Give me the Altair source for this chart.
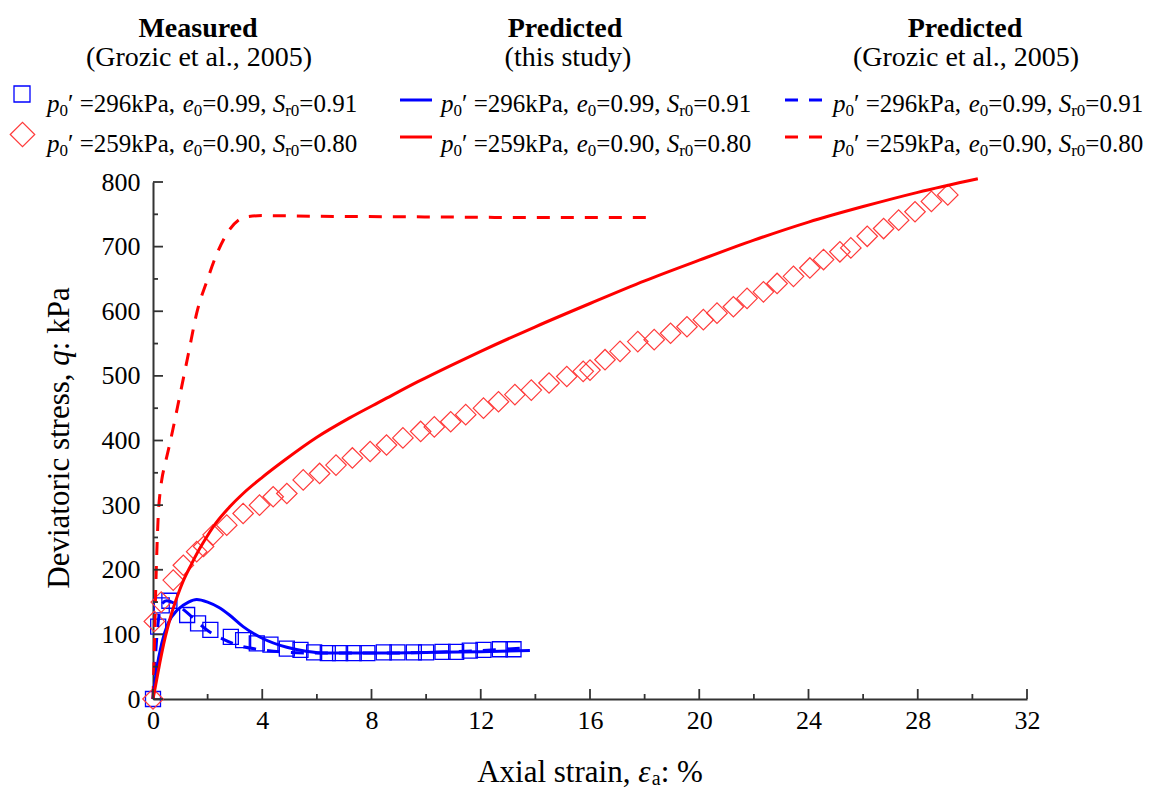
import altair as alt
import pandas as pd

FONT = "Liberation Serif"
BLUE = "#0000FF"
RED = "#FF0000"
DIAMOND_RED = "#FF3B3B"
AXIS_COLOR = "#333333"

# ---------------- data ----------------
# Measured (Grozic et al., 2005), p0' = 296 kPa
meas_296_strain = [0, 0.19, 0.32, 0.6, 1.25, 1.65, 2.1, 2.85, 3.3, 3.8, 4.3, 4.9, 5.4, 5.9,
                   6.4, 6.85, 7.35, 7.85, 8.45, 8.95, 9.55, 10.0, 10.6, 11.1, 11.6, 12.1, 12.7, 13.2]
meas_296_q = [0, 112, 145, 152, 130, 117, 107, 96, 91, 86, 84, 78, 76, 72,
              71, 71, 71, 71, 72, 72, 72, 72, 73, 73, 75, 76, 77, 77]

# Measured (Grozic et al., 2005), p0' = 259 kPa
meas_259_strain = [0, 0.05, 0.3, 0.74, 1.11, 1.6, 1.85, 2.2, 2.7, 3.3, 3.9, 4.4, 4.9, 5.5,
                   6.1, 6.7, 7.3, 7.95, 8.55, 9.15, 9.8, 10.3, 10.9, 11.45, 12.1, 12.65,
                   13.25, 13.85, 14.5, 15.15, 15.75, 16.0, 16.55, 17.1, 17.75, 18.35, 18.95,
                   19.55, 20.15, 20.65, 21.25, 21.75, 22.35, 22.85, 23.45, 24.05, 24.55,
                   25.15, 25.55, 26.15, 26.75, 27.3, 27.9, 28.5, 29.1]
meas_259_q = [0, 120, 150, 184, 207, 228, 236, 254, 269, 287, 300, 313, 318, 339,
              349, 362, 373, 383, 393, 404, 414, 421, 429, 440, 450, 460,
              471, 478, 489, 499, 507, 509, 525, 538, 553, 556, 566,
              576, 587, 597, 607, 620, 630, 643, 654, 667, 680,
              692, 698, 716, 728, 741, 754, 770, 780]

# Predicted (this study)
pred_296_strain = [0, 0.13, 0.32, 0.55, 0.9, 1.3, 1.6, 2.0, 2.4, 2.8, 3.3, 4.0, 4.9, 5.6,
                   6.4, 8.0, 10.0, 12.0, 13.8]
pred_296_q = [0, 45, 86, 117, 138, 150, 154, 150, 142, 130, 112, 94, 80, 74,
              71, 71, 72, 73, 75]

pred_259_strain = [0, 0.1, 0.25, 0.45, 0.65, 0.9, 1.1, 1.4, 1.7, 2.0, 2.3, 2.8, 3.3, 4.0,
                   4.8, 6.0, 7.2, 8.4, 9.7, 10.9, 12.0, 14.0, 16.0, 18.0, 20.0, 22.0,
                   24.0, 26.0, 28.0, 30.2]
pred_259_q = [0, 22, 56, 96, 128, 160, 182, 208, 232, 253, 272, 297, 318, 343,
              369, 405, 435, 462, 491, 516, 538, 576, 612, 647, 679, 710,
              738, 762, 784, 805]

# Predicted (Grozic et al., 2005)
groz_296_strain = [0, 0.08, 0.18, 0.3, 0.5, 0.9, 1.4, 2.0, 2.6, 3.2, 4.0, 5.0, 6.0,
                   8.0, 10.0, 12.0, 13.6]
groz_296_q = [0, 60, 115, 145, 152, 145, 128, 106, 92, 82, 76, 72, 71,
              71, 72, 75, 79]

groz_259_strain = [0, 0.05, 0.1, 0.15, 0.2, 0.26, 0.32, 0.45, 0.62, 1.0, 1.3, 1.6, 2.0,
                   2.35, 2.8, 3.4, 4.0, 6.0, 10.0, 14.0, 18.4]
groz_259_q = [0, 80, 170, 240, 290, 320, 339, 365, 396, 473, 535, 597, 650,
              690, 726, 746, 748, 747, 746, 745, 745]

x_major = [0, 4, 8, 12, 16, 20, 24, 28, 32]
x_minor = [2, 6, 10, 14, 18, 22, 26, 30]
y_major = [0, 100, 200, 300, 400, 500, 600, 700, 800]
y_minor = [50, 150, 250, 350, 450, 550, 650, 750]

# ---------------- layout ----------------
W, H = 874, 517
TICK_FS = 26
TITLE_FS = 31
LEG_FS = 25
SUB_FS = 17
SUB_DROP = 7
HDR_FS = 28

# Times/Liberation Serif advance widths (per 1000 em)
REG = {" ": 250, "(": 333, ")": 333, ",": 250, ".": 250, ":": 278, "=": 564, "%": 833,
       "A": 722, "D": 722, "G": 722, "P": 556, "S": 556, "a": 444, "c": 444, "d": 500,
       "e": 444, "h": 500, "i": 278, "k": 500, "l": 278, "n": 500, "o": 500, "r": 333,
       "s": 389, "t": 278, "u": 500, "v": 500, "x": 500, "y": 500, "z": 444, "\u2032": 275}
for _d in "0123456789":
    REG[_d] = 500
ITA = {"p": 500, "e": 444, "S": 500, "q": 500, "\u03b5": 440}


def text_width(s, style, size):
    table = ITA if style == "italic" else REG
    return sum(table.get(c, 500) for c in s) / 1000.0 * size


def run_row(parts, x0, y0):
    rows, x = [], x0
    for t, st, fs, dy in parts:
        rows.append(dict(px=x, py=y0 + dy, text=t, style=st, fs=fs))
        x += text_width(t, st, fs)
    return rows


def legend_entry(p0, e0, sr0, x0, y0):
    parts = [("p", "italic", LEG_FS, 0), ("0", "normal", SUB_FS, SUB_DROP),
             ("\u2032 =" + p0 + "kPa, ", "normal", LEG_FS, 0),
             ("e", "italic", LEG_FS, 0), ("0", "normal", SUB_FS, SUB_DROP),
             ("=" + e0 + ", ", "normal", LEG_FS, 0),
             ("S", "italic", LEG_FS, 0), ("r0", "normal", SUB_FS, SUB_DROP),
             ("=" + sr0, "normal", LEG_FS, 0)]
    return run_row(parts, x0, y0)


x_scale = alt.Scale(domain=[0, 32], nice=False, zero=False)
y_scale = alt.Scale(domain=[0, 800], nice=False, zero=False)

x_enc = alt.X("strain:Q", scale=x_scale,
              axis=alt.Axis(values=x_major, ticks=False, tickSize=0, grid=False, title=None,
                            domainColor=AXIS_COLOR, domainWidth=2, labelFont=FONT,
                            labelFontSize=TICK_FS, labelColor="black", labelPadding=8,
                            labelFlush=False, labelOverlap=False, labelBound=False))
y_enc = alt.Y("q:Q", scale=y_scale,
              axis=alt.Axis(values=y_major, ticks=False, tickSize=0, grid=False, title=None,
                            domainColor=AXIS_COLOR, domainWidth=2, labelFont=FONT,
                            labelFontSize=TICK_FS, labelColor="black", labelPadding=13,
                            labelFlush=False, labelOverlap=False, labelBound=False))


def series(xs, ys):
    return pd.DataFrame({"strain": xs, "q": ys})


# measured points
squares = alt.Chart(series(meas_296_strain, meas_296_q)).mark_point(
    shape="square", size=225, filled=False, color=BLUE, strokeWidth=1.3, opacity=1
).encode(x=x_enc, y=y_enc)
diamonds = alt.Chart(series(meas_259_strain, meas_259_q)).mark_point(
    shape="diamond", size=420, filled=False, color=DIAMOND_RED, strokeWidth=1.2, opacity=1
).encode(x=x_enc, y=y_enc)

# predicted curves
DASH = [13, 11]
line_pred_296 = alt.Chart(series(pred_296_strain, pred_296_q)).mark_line(
    color=BLUE, strokeWidth=3, interpolate="monotone").encode(x=x_enc, y=y_enc)
line_pred_259 = alt.Chart(series(pred_259_strain, pred_259_q)).mark_line(
    color=RED, strokeWidth=3, interpolate="monotone").encode(x=x_enc, y=y_enc)
line_groz_296 = alt.Chart(series(groz_296_strain, groz_296_q)).mark_line(
    color=BLUE, strokeWidth=3, strokeDash=DASH, interpolate="monotone").encode(x=x_enc, y=y_enc)
line_groz_259 = alt.Chart(series(groz_259_strain, groz_259_q)).mark_line(
    color=RED, strokeWidth=3, strokeDash=DASH, interpolate="monotone").encode(x=x_enc, y=y_enc)

# inward tick marks
tick_y_major = alt.Chart(pd.DataFrame({"q": y_major})).mark_rule(
    color=AXIS_COLOR, strokeWidth=1.8).encode(y=y_enc, x=alt.value(0), x2=alt.value(10))
tick_y_minor = alt.Chart(pd.DataFrame({"q": y_minor})).mark_rule(
    color=AXIS_COLOR, strokeWidth=1.8).encode(y=y_enc, x=alt.value(0), x2=alt.value(5))
tick_x_major = alt.Chart(pd.DataFrame({"strain": x_major})).mark_rule(
    color=AXIS_COLOR, strokeWidth=1.8).encode(x=x_enc, y=alt.value(H), y2=alt.value(H - 10))
tick_x_minor = alt.Chart(pd.DataFrame({"strain": x_minor})).mark_rule(
    color=AXIS_COLOR, strokeWidth=1.8).encode(x=x_enc, y=alt.value(H), y2=alt.value(H - 5))

# ---------------- legend ----------------
ROW1, ROW2 = -78, -38
COL_TEXT = [-106, 288, 680]
leg_rows = []
for cx in COL_TEXT:
    leg_rows += legend_entry("296", "0.99", "0.91", cx, ROW1)
    leg_rows += legend_entry("259", "0.90", "0.80", cx, ROW2)

# axis titles as styled runs
xt_parts = [("Axial strain, ", "normal", TITLE_FS, 0), ("\u03b5", "italic", TITLE_FS, 0),
            ("a", "normal", 20, 6), (": %", "normal", TITLE_FS, 0)]
xt_total = sum(text_width(t, s, f) for t, s, f, _ in xt_parts)
leg_rows += run_row(xt_parts, W / 2 - xt_total / 2, 591)

yt_parts = [("Deviatoric stress, ", "normal"), ("q", "italic"), (": kPa", "normal")]
yt_total = sum(text_width(t, s, TITLE_FS) for t, s in yt_parts)
yt_rows, yy = [], 256 + yt_total / 2
for t, s in yt_parts:
    yt_rows.append(dict(px=-93, py=yy, text=t, style=s, fs=TITLE_FS))
    yy -= text_width(t, s, TITLE_FS)

headers_bold = [dict(px=45, py=-153, text="Measured", fs=HDR_FS),
                dict(px=412, py=-153, text="Predicted", fs=HDR_FS),
                dict(px=812, py=-153, text="Predicted", fs=HDR_FS)]
headers_sub = [dict(px=46, py=-124, text="(Grozic et al., 2005)", fs=HDR_FS),
               dict(px=415, py=-124, text="(this study)", fs=HDR_FS),
               dict(px=813, py=-124, text="(Grozic et al., 2005)", fs=HDR_FS)]


def text_layer(rows, **props):
    df = pd.DataFrame(rows)
    return alt.Chart(df).mark_text(font=FONT, color="black", **props).encode(
        x=alt.X("px:Q", scale=None, axis=None),
        y=alt.Y("py:Q", scale=None, axis=None),
        text="text:N",
        size=alt.Size("fs:Q", scale=None, legend=None),
    )


txt_normal = text_layer([r for r in leg_rows if r["style"] == "normal"], align="left")
txt_italic = text_layer([r for r in leg_rows if r["style"] == "italic"], align="left",
                        fontStyle="italic")
ytitle_normal = text_layer([r for r in yt_rows if r["style"] == "normal"], align="left",
                           baseline="middle", angle=270)
ytitle_italic = text_layer([r for r in yt_rows if r["style"] == "italic"], align="left",
                           baseline="middle", angle=270, fontStyle="italic")
hdr_bold = text_layer(headers_bold, align="center", fontWeight="bold")
hdr_sub = text_layer(headers_sub, align="center")

# legend symbols
leg_sq = alt.Chart(pd.DataFrame({"px": [-131], "py": [-88]})).mark_point(
    shape="square", size=256, filled=False, color=BLUE, strokeWidth=1.3, opacity=1
).encode(x=alt.X("px:Q", scale=None, axis=None), y=alt.Y("py:Q", scale=None, axis=None))
leg_dm = alt.Chart(pd.DataFrame({"px": [-130.5], "py": [-47.5]})).mark_point(
    shape="diamond", size=600, filled=False, color=DIAMOND_RED, strokeWidth=1.2, opacity=1
).encode(x=alt.X("px:Q", scale=None, axis=None), y=alt.Y("py:Q", scale=None, axis=None))

leg_lines = pd.DataFrame({
    "x0": [247, 247, 632, 632], "x1": [279, 279, 670, 670],
    "py": [-82, -45, -82, -45],
    "col": ["b", "r", "b", "r"], "kind": ["solid", "solid", "dash", "dash"],
})


def leg_line(color_key, kind, color):
    df = leg_lines[(leg_lines.col == color_key) & (leg_lines.kind == kind)]
    props = dict(color=color, strokeWidth=3)
    if kind == "dash":
        props["strokeDash"] = DASH
    return alt.Chart(df).mark_rule(**props).encode(
        x=alt.X("x0:Q", scale=None, axis=None), x2="x1:Q",
        y=alt.Y("py:Q", scale=None, axis=None))


legend_marks = [leg_sq, leg_dm,
                leg_line("b", "solid", BLUE), leg_line("r", "solid", RED),
                leg_line("b", "dash", BLUE), leg_line("r", "dash", RED)]

chart = alt.layer(
    squares, diamonds,
    line_groz_296, line_groz_259, line_pred_296, line_pred_259,
    tick_y_major, tick_y_minor, tick_x_major, tick_x_minor,
    *legend_marks,
    txt_normal, txt_italic, ytitle_normal, ytitle_italic, hdr_bold, hdr_sub,
).properties(
    width=W, height=H,
    padding={"left": 153, "top": 182, "right": 135, "bottom": 92},
    autosize=alt.AutoSizeParams(type="none"),
    background="white",
).configure_view(stroke=None)

chart.save("out.html", embed_options={"renderer": "svg", "actions": False})
